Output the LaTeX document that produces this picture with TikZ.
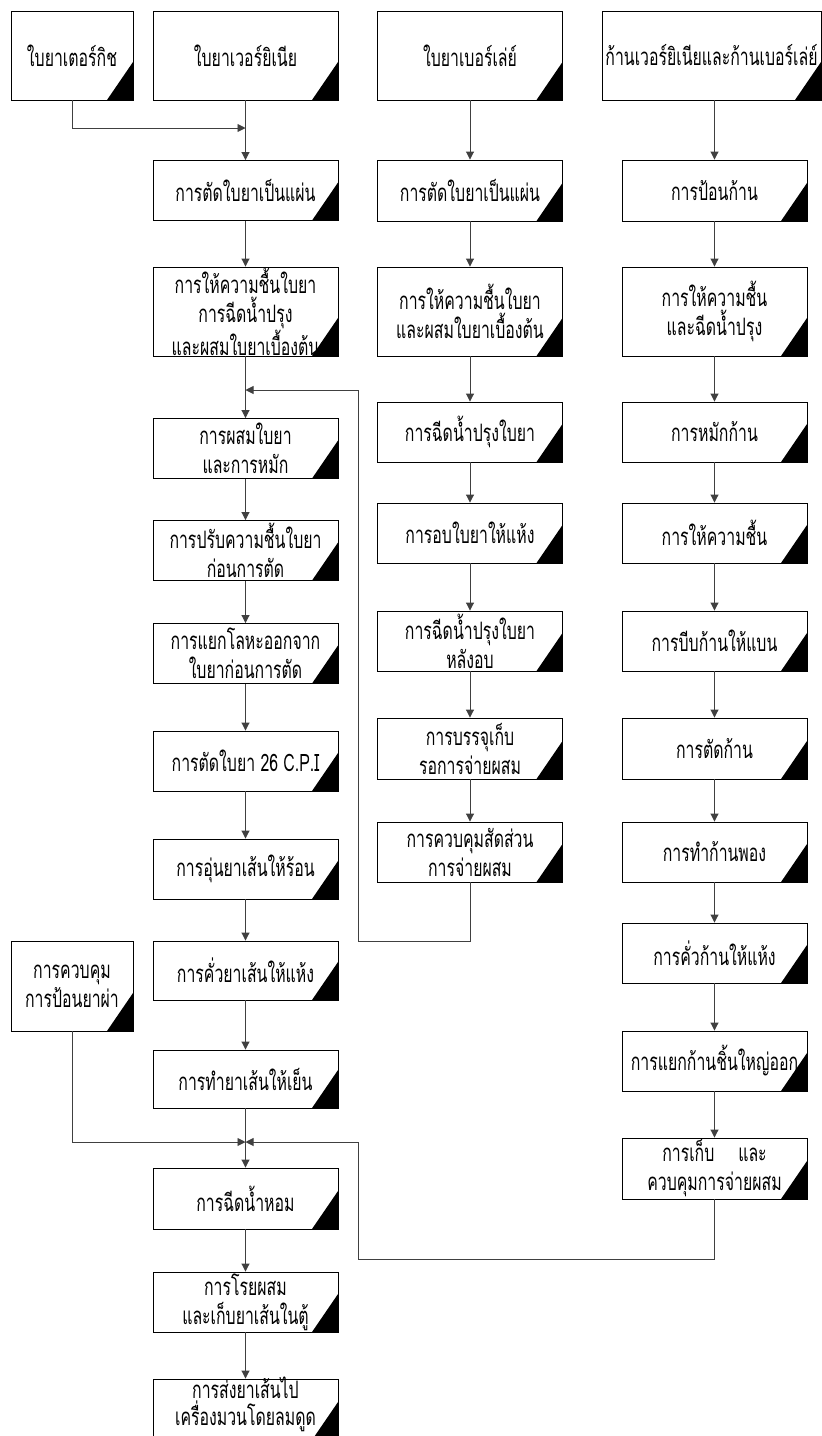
\documentclass[tikz,border=0pt]{standalone}
\usepackage{fontspec}
\setmainfont[Script=Thai, FakeStretch=0.66]{Loma}
\usetikzlibrary{arrows.meta,calc}

\tikzset{
  proc/.style={draw=black, line width=0.9pt, fill=white, inner sep=0pt,
    align=center, font=\fontsize{24}{29}\selectfont,
    minimum width=185pt, minimum height=60pt,
    path picture={
      \fill[black] ($(path picture bounding box.south east)+(-26pt,0pt)$)
        -- (path picture bounding box.south east)
        -- ($(path picture bounding box.south east)+(0pt,38pt)$) -- cycle;}},
  tall/.style={minimum height=89pt},
  narrow/.style={minimum width=122pt},
  conn/.style={draw=black!75, line width=0.9pt},
  arr/.style={conn, -{Triangle[length=8pt,width=8pt]}},
}

\begin{document}
\begin{tikzpicture}[x=1pt,y=-1pt]
\useasboundingbox (0,0) rectangle (822,1436);
\clip (0,0) rectangle (822,1436);

% left column
\node[proc, narrow, tall] (t1) at (72,55.5) {ใบยาเตอร์กิช};
\node[proc, narrow, tall, minimum height=90pt] (c1) at (72,986) {การควบคุม\\การป้อนยาผ่า};

% main line of cut tobacco
\node[proc, tall] (v0) at (245.5,55.5) {ใบยาเวอร์ยิเนีย};
\node[proc] (v1) at (245.5,190.5) {การตัดใบยาเป็นแผ่น};
\node[proc, tall] (v2) at (245.5,311.5) {การให้ความชื้นใบยา\\การฉีดน้ำปรุง\\และผสมใบยาเบื้องต้น};
\node[proc] (v3) at (245.5,448.5) {การผสมใบยา\\และการหมัก};
\node[proc] (v4) at (245.5,550.5) {การปรับความชื้นใบยา\\ก่อนการตัด};
\node[proc] (v5) at (245.5,653.5) {การแยกโลหะออกจาก\\ใบยาก่อนการตัด};
\node[proc] (v6) at (245.5,761) {การตัดใบยา 26 C.P.I};
\node[proc] (v7) at (245.5,869) {การอุ่นยาเส้นให้ร้อน};
\node[proc, minimum height=59pt] (v8) at (245.5,970.5) {การคั่วยาเส้นให้แห้ง};
\node[proc, minimum height=58pt] (v9) at (245.5,1079) {การทำยาเส้นให้เย็น};
\node[proc, minimum height=61pt] (v10) at (245.5,1198.5) {การฉีดน้ำหอม};
\node[proc] (v11) at (245.5,1302) {การโรยผสม\\และเก็บยาเส้นในตู้};
\node[proc, minimum height=61pt] (v12) at (245.5,1409.5)
  {\raisebox{4pt}[\height][\depth]{\begin{tabular}{@{}c@{}}การส่งยาเส้นไป\\[-6pt]เครื่องมวนโดยลมดูด\end{tabular}}};

% burley leaf line
\node[proc, tall] (b0) at (470,55.5) {ใบยาเบอร์เล่ย์};
\node[proc, minimum height=61pt] (b1) at (470,190.5) {การตัดใบยาเป็นแผ่น};
\node[proc, tall] (b2) at (470,311.5) {การให้ความชื้นใบยา\\และผสมใบยาเบื้องต้น};
\node[proc] (b3) at (470,432) {การฉีดน้ำปรุงใบยา};
\node[proc] (b4) at (470,533) {การอบใบยาให้แห้ง};
\node[proc] (b5) at (470,641) {การฉีดน้ำปรุงใบยา\\หลังอบ};
\node[proc, minimum height=61pt] (b6) at (470,748.5) {การบรรจุเก็บ\\รอการจ่ายผสม};
\node[proc] (b7) at (470,852) {การควบคุมสัดส่วน\\การจ่ายผสม};

% stem line
\node[proc, tall, minimum width=219pt] (s0) at (711.5,55.5) {ก้านเวอร์ยิเนียและก้านเบอร์เล่ย์};
\node[proc, minimum height=61pt] (s1) at (714.5,190.5) {การป้อนก้าน};
\node[proc, tall] (s2) at (714.5,311.5) {การให้ความชื้น\\และฉีดน้ำปรุง};
\node[proc] (s3) at (714.5,432) {การหมักก้าน};
\node[proc] (s4) at (714.5,533) {การให้ความชื้น};
\node[proc] (s5) at (714.5,641) {การบีบก้านให้แบน};
\node[proc, minimum height=61pt] (s6) at (714.5,748.5) {การตัดก้าน};
\node[proc] (s7) at (714.5,852) {การทำก้านพอง};
\node[proc] (s8) at (714.5,953) {การคั่วก้านให้แห้ง};
\node[proc] (s9) at (714.5,1061) {การแยกก้านชิ้นใหญ่ออก};
\node[proc, minimum height=61pt] (s10) at (714.5,1168.5) {การเก็บ\quad และ\\ควบคุมการจ่ายผสม};

% junction points on the main line
\coordinate (j0) at (245.5,128);
\coordinate (j1) at (245.5,390);
\coordinate (j2) at (245.5,1142);

% main line
\draw[arr] (v0) -- (v1);
\draw[arr] (v1) -- (v2);
\draw[arr] (v2) -- (v3);
\draw[arr] (v3) -- (v4);
\draw[arr] (v4) -- (v5);
\draw[arr] (v5) -- (v6);
\draw[arr] (v6) -- (v7);
\draw[arr] (v7) -- (v8);
\draw[arr] (v8) -- (v9);
\draw[arr] (v9) -- (v10);
\draw[arr] (v10) -- (v11);
\draw[arr] (v11) -- (v12);

% burley line
\draw[arr] (b0) -- (b1);
\draw[arr] (b1) -- (b2);
\draw[arr] (b2) -- (b3);
\draw[arr] (b3) -- (b4);
\draw[arr] (b4) -- (b5);
\draw[arr] (b5) -- (b6);
\draw[arr] (b6) -- (b7);

% stem line
\draw[arr] (s0.south -| s1) -- (s1);
\draw[arr] (s1) -- (s2);
\draw[arr] (s2) -- (s3);
\draw[arr] (s3) -- (s4);
\draw[arr] (s4) -- (s5);
\draw[arr] (s5) -- (s6);
\draw[arr] (s6) -- (s7);
\draw[arr] (s7) -- (s8);
\draw[arr] (s8) -- (s9);
\draw[arr] (s9) -- (s10);

% feeds joining the main line
\draw[arr] (t1.south) |- (j0);
\draw[arr] (b7.south) -- (470,941) -| (358,390) -- (j1);
\draw[arr] (c1.south) |- (j2);
\draw[arr] (s10.south) -- (714.5,1259) -| (358,1142) -- (j2);
\end{tikzpicture}
\end{document}
